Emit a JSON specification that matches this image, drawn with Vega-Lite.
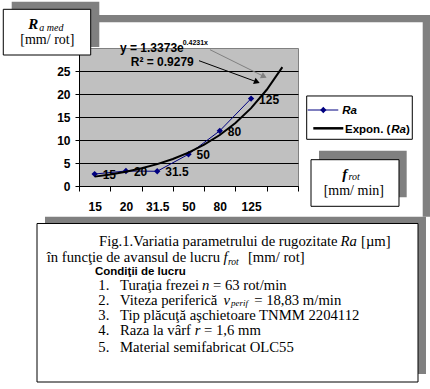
{
"$schema": "https://vega.github.io/schema/vega-lite/v6.json",
"width": 219, "height": 138,
"autosize": "none",
"padding": {"left": 79, "top": 48, "right": 132, "bottom": 203},
"background": "white",
"config": {"view": {"fill": "#c0c0c0", "stroke": "#808080", "strokeWidth": 1}, "axis": {"labelOverlap": false, "labelFlush": false}},
"datasets": {
 "ra": [
  {"i": 1, "f": "15", "ra": 2.6},
  {"i": 2, "f": "20", "ra": 3.26},
  {"i": 3, "f": "31.5", "ra": 3.2},
  {"i": 4, "f": "50", "ra": 6.9},
  {"i": 5, "f": "80", "ra": 12.0},
  {"i": 6, "f": "125", "ra": 19.0}
 ],
 "trend": [
  {"i": 1, "ra": 2.04}, {"i": 1.5, "ra": 2.52}, {"i": 2, "ra": 3.12}, {"i": 2.5, "ra": 3.85},
  {"i": 3, "ra": 4.76}, {"i": 3.5, "ra": 5.88}, {"i": 4, "ra": 7.26}, {"i": 4.5, "ra": 8.98},
  {"i": 5, "ra": 11.09}, {"i": 5.5, "ra": 13.7}, {"i": 6, "ra": 16.93}, {"i": 6.5, "ra": 20.92},
  {"i": 7, "ra": 25.85}
 ]
},
"resolve": {"scale": {"x": "independent", "y": "independent"}, "axis": {"x": "independent", "y": "independent"}},
"layer": [
 {
  "layer": [
   {"data": {"values": [{}]}, "mark": {"type": "rect", "fill": "#808080"}, "encoding": {"x": {"datum": -0.427, "axis": null, "scale": {"domain": [0.5, 7.5], "nice": false, "zero": false}}, "x2": {"datum": 11.719}, "y": {"datum": 37.174, "axis": null, "scale": {"domain": [0, 30], "nice": false, "zero": false}}, "y2": {"datum": 35.587}}},
   {"data": {"values": [{}]}, "mark": {"type": "rect", "fill": "#808080"}, "encoding": {"x": {"datum": 11.486, "axis": null}, "x2": {"datum": 11.719}, "y": {"datum": 37.174, "axis": null}, "y2": {"datum": -6.674}}},
   {"data": {"values": [{}]}, "mark": {"type": "rect", "fill": "#808080"}, "encoding": {"x": {"datum": -0.587, "axis": null}, "x2": {"datum": 11.591}, "y": {"datum": -6.674, "axis": null}, "y2": {"datum": -40.87}}},
   {"data": {"values": [{}]}, "mark": {"type": "rect", "fill": "white", "stroke": "black", "strokeWidth": 1}, "encoding": {"x": {"datum": -0.842, "axis": null}, "x2": {"datum": 11.336}, "y": {"datum": -8.152, "axis": null}, "y2": {"datum": -42.609}}},
   {"data": {"values": [{}]}, "mark": {"type": "rect", "fill": "#808080"}, "encoding": {"x": {"datum": 8.171, "axis": null}, "x2": {"datum": 10.974}, "y": {"datum": 7.674, "axis": null}, "y2": {"datum": -2.457}}},
   {"data": {"values": [{}]}, "mark": {"type": "rect", "fill": "white", "stroke": "black", "strokeWidth": 1}, "encoding": {"x": {"datum": 7.916, "axis": null}, "x2": {"datum": 10.728}, "y": {"datum": 5.717, "axis": null}, "y2": {"datum": -4.413}}},
   {"data": {"values": [{}]}, "mark": {"type": "rect", "fill": "white", "stroke": "black", "strokeWidth": 1}, "encoding": {"x": {"datum": 7.778, "axis": null}, "x2": {"datum": 11.153}, "y": {"datum": 19.57, "axis": null}, "y2": {"datum": 10.15}}},

   {"data": {"values": [{}]}, "mark": {"type": "rule", "color": "#000080", "strokeWidth": 1}, "encoding": {"x": {"datum": 7.81, "axis": null}, "x2": {"datum": 8.788}, "y": {"datum": 16.52, "axis": null}}},
   {"data": {"values": [{}]}, "mark": {"type": "point", "shape": "diamond", "filled": true, "size": 40, "color": "#000080", "opacity": 1}, "encoding": {"x": {"datum": 8.309, "axis": null}, "y": {"datum": 16.52, "axis": null}}},
   {"data": {"values": [{}]}, "mark": {"type": "rule", "color": "black", "strokeWidth": 2.5}, "encoding": {"x": {"datum": 7.989, "axis": null}, "x2": {"datum": 8.948}, "y": {"datum": 12.54, "axis": null}}},
   {"data": {"values": [{}]}, "mark": {"type": "text", "text": "Ra", "font": "Liberation Sans", "fontWeight": "bold", "fontStyle": "italic", "fontSize": 11.5, "align": "left", "baseline": "alphabetic", "color": "black"}, "encoding": {"x": {"datum": 8.916, "axis": null}, "y": {"datum": 15.65, "axis": null}}},
   {"data": {"values": [{}]}, "mark": {"type": "text", "text": "Expon. (", "font": "Liberation Sans", "fontWeight": "bold", "fontSize": 11.5, "align": "left", "baseline": "alphabetic", "color": "black"}, "encoding": {"x": {"datum": 9.002, "axis": null}, "y": {"datum": 11.59, "axis": null}}},
   {"data": {"values": [{}]}, "mark": {"type": "text", "text": "Ra", "font": "Liberation Sans", "fontWeight": "bold", "fontStyle": "italic", "fontSize": 11.5, "align": "left", "baseline": "alphabetic", "color": "black"}, "encoding": {"x": {"datum": 10.48, "axis": null}, "y": {"datum": 11.59, "axis": null}}},
   {"data": {"values": [{}]}, "mark": {"type": "text", "text": ")", "font": "Liberation Sans", "fontWeight": "bold", "fontSize": 11.5, "align": "left", "baseline": "alphabetic", "color": "black"}, "encoding": {"x": {"datum": 10.95, "axis": null}, "y": {"datum": 11.59, "axis": null}}},

   {"data": {"values": [{}]}, "mark": {"type": "text", "text": "f", "font": "Liberation Serif", "fontWeight": "bold", "fontStyle": "italic", "fontSize": 15, "align": "left", "baseline": "alphabetic", "color": "black"}, "encoding": {"x": {"datum": 8.916, "axis": null}, "y": {"datum": 1.63, "axis": null}}},
   {"data": {"values": [{}]}, "mark": {"type": "text", "text": "rot", "font": "Liberation Serif", "fontStyle": "italic", "fontSize": 10, "align": "left", "baseline": "alphabetic", "color": "black"}, "encoding": {"x": {"datum": 9.114, "axis": null}, "y": {"datum": 1.304, "axis": null}}},
   {"data": {"values": [{}]}, "mark": {"type": "text", "text": "[mm/ min]", "font": "Liberation Serif", "fontSize": 14, "align": "center", "baseline": "alphabetic", "color": "black"}, "encoding": {"x": {"datum": 9.284, "axis": null}, "y": {"datum": -1.957, "axis": null}}},

   {"data": {"values": [{}]}, "mark": {"type": "text", "text": "Fig.1.Variatia parametrului de rugozitate", "font": "Liberation Serif", "fontSize": 14.7, "align": "left", "baseline": "alphabetic", "color": "black"}, "encoding": {"x": {"datum": 1.139, "axis": null}, "y": {"datum": -13.043, "axis": null}}},
   {"data": {"values": [{}]}, "mark": {"type": "text", "text": "Ra", "font": "Liberation Serif", "fontStyle": "italic", "fontSize": 14.7, "align": "left", "baseline": "alphabetic", "color": "black"}, "encoding": {"x": {"datum": 8.858, "axis": null}, "y": {"datum": -13.043, "axis": null}}},
   {"data": {"values": [{}]}, "mark": {"type": "text", "text": "[µm]", "font": "Liberation Serif", "fontSize": 14.7, "align": "left", "baseline": "alphabetic", "color": "black"}, "encoding": {"x": {"datum": 9.514, "axis": null}, "y": {"datum": -13.043, "axis": null}}},
   {"data": {"values": [{}]}, "mark": {"type": "text", "text": "în funcţie de avansul de lucru", "font": "Liberation Serif", "fontSize": 14.7, "align": "left", "baseline": "alphabetic", "color": "black"}, "encoding": {"x": {"datum": -0.532, "axis": null}, "y": {"datum": -16.522, "axis": null}}},
   {"data": {"values": [{}]}, "mark": {"type": "text", "text": "f", "font": "Liberation Serif", "fontStyle": "italic", "fontSize": 14.7, "align": "left", "baseline": "alphabetic", "color": "black"}, "encoding": {"x": {"datum": 5.122, "axis": null}, "y": {"datum": -16.522, "axis": null}}},
   {"data": {"values": [{}]}, "mark": {"type": "text", "text": "rot", "font": "Liberation Serif", "fontStyle": "italic", "fontSize": 9.5, "align": "left", "baseline": "alphabetic", "color": "black"}, "encoding": {"x": {"datum": 5.26, "axis": null}, "y": {"datum": -17.174, "axis": null}}},
   {"data": {"values": [{}]}, "mark": {"type": "text", "text": "[mm/ rot]", "font": "Liberation Serif", "fontSize": 14.7, "align": "left", "baseline": "alphabetic", "color": "black"}, "encoding": {"x": {"datum": 5.9, "axis": null}, "y": {"datum": -16.522, "axis": null}}},
   {"data": {"values": [{}]}, "mark": {"type": "text", "text": "Condiţii de lucru", "font": "Liberation Sans", "fontWeight": "bold", "fontSize": 11.5, "align": "left", "baseline": "alphabetic", "color": "black"}, "encoding": {"x": {"datum": 1.011, "axis": null}, "y": {"datum": -19.348, "axis": null}}},

   {"data": {"values": [{}]}, "mark": {"type": "text", "text": "1.", "font": "Liberation Serif", "fontSize": 14.7, "align": "left", "baseline": "alphabetic", "color": "black"}, "encoding": {"x": {"datum": 1.117, "axis": null}, "y": {"datum": -22.609, "axis": null}}},
   {"data": {"values": [{}]}, "mark": {"type": "text", "text": "Turaţia frezei", "font": "Liberation Serif", "fontSize": 14.7, "align": "left", "baseline": "alphabetic", "color": "black"}, "encoding": {"x": {"datum": 1.811, "axis": null}, "y": {"datum": -22.609, "axis": null}}},
   {"data": {"values": [{}]}, "mark": {"type": "text", "text": "n", "font": "Liberation Serif", "fontStyle": "italic", "fontSize": 14.7, "align": "left", "baseline": "alphabetic", "color": "black"}, "encoding": {"x": {"datum": 4.432, "axis": null}, "y": {"datum": -22.609, "axis": null}}},
   {"data": {"values": [{}]}, "mark": {"type": "text", "text": "= 63 rot/min", "font": "Liberation Serif", "fontSize": 14.7, "align": "left", "baseline": "alphabetic", "color": "black"}, "encoding": {"x": {"datum": 4.783, "axis": null}, "y": {"datum": -22.609, "axis": null}}},

   {"data": {"values": [{}]}, "mark": {"type": "text", "text": "2.", "font": "Liberation Serif", "fontSize": 14.7, "align": "left", "baseline": "alphabetic", "color": "black"}, "encoding": {"x": {"datum": 1.117, "axis": null}, "y": {"datum": -25.87, "axis": null}}},
   {"data": {"values": [{}]}, "mark": {"type": "text", "text": "Viteza periferică", "font": "Liberation Serif", "fontSize": 14.7, "align": "left", "baseline": "alphabetic", "color": "black"}, "encoding": {"x": {"datum": 1.811, "axis": null}, "y": {"datum": -25.87, "axis": null}}},
   {"data": {"values": [{}]}, "mark": {"type": "text", "text": "v", "font": "Liberation Serif", "fontStyle": "italic", "fontSize": 14.7, "align": "left", "baseline": "alphabetic", "color": "black"}, "encoding": {"x": {"datum": 5.119, "axis": null}, "y": {"datum": -25.87, "axis": null}}},
   {"data": {"values": [{}]}, "mark": {"type": "text", "text": "perif", "font": "Liberation Serif", "fontStyle": "italic", "fontSize": 9, "align": "left", "baseline": "alphabetic", "color": "black"}, "encoding": {"x": {"datum": 5.358, "axis": null}, "y": {"datum": -26.087, "axis": null}}},
   {"data": {"values": [{}]}, "mark": {"type": "text", "text": "= 18,83 m/min", "font": "Liberation Serif", "fontSize": 14.7, "align": "left", "baseline": "alphabetic", "color": "black"}, "encoding": {"x": {"datum": 6.1, "axis": null}, "y": {"datum": -25.87, "axis": null}}},

   {"data": {"values": [{}]}, "mark": {"type": "text", "text": "3.", "font": "Liberation Serif", "fontSize": 14.7, "align": "left", "baseline": "alphabetic", "color": "black"}, "encoding": {"x": {"datum": 1.117, "axis": null}, "y": {"datum": -29.13, "axis": null}}},
   {"data": {"values": [{}]}, "mark": {"type": "text", "text": "Tip plăcuţă aşchietoare TNMM 2204112", "font": "Liberation Serif", "fontSize": 14.7, "align": "left", "baseline": "alphabetic", "color": "black"}, "encoding": {"x": {"datum": 1.811, "axis": null}, "y": {"datum": -29.13, "axis": null}}},

   {"data": {"values": [{}]}, "mark": {"type": "text", "text": "4.", "font": "Liberation Serif", "fontSize": 14.7, "align": "left", "baseline": "alphabetic", "color": "black"}, "encoding": {"x": {"datum": 1.117, "axis": null}, "y": {"datum": -32.391, "axis": null}}},
   {"data": {"values": [{}]}, "mark": {"type": "text", "text": "Raza la vârf", "font": "Liberation Serif", "fontSize": 14.7, "align": "left", "baseline": "alphabetic", "color": "black"}, "encoding": {"x": {"datum": 1.811, "axis": null}, "y": {"datum": -32.391, "axis": null}}},
   {"data": {"values": [{}]}, "mark": {"type": "text", "text": "r", "font": "Liberation Serif", "fontStyle": "italic", "fontSize": 14.7, "align": "left", "baseline": "alphabetic", "color": "black"}, "encoding": {"x": {"datum": 4.198, "axis": null}, "y": {"datum": -32.391, "axis": null}}},
   {"data": {"values": [{}]}, "mark": {"type": "text", "text": "= 1,6 mm", "font": "Liberation Serif", "fontSize": 14.7, "align": "left", "baseline": "alphabetic", "color": "black"}, "encoding": {"x": {"datum": 4.495, "axis": null}, "y": {"datum": -32.391, "axis": null}}},

   {"data": {"values": [{}]}, "mark": {"type": "text", "text": "5.", "font": "Liberation Serif", "fontSize": 14.7, "align": "left", "baseline": "alphabetic", "color": "black"}, "encoding": {"x": {"datum": 1.117, "axis": null}, "y": {"datum": -36.087, "axis": null}}},
   {"data": {"values": [{}]}, "mark": {"type": "text", "text": "Material semifabricat OLC55", "font": "Liberation Serif", "fontSize": 14.7, "align": "left", "baseline": "alphabetic", "color": "black"}, "encoding": {"x": {"datum": 1.811, "axis": null}, "y": {"datum": -36.087, "axis": null}}}
  ]
 },
 {
  "encoding": {
   "x": {"field": "i", "type": "quantitative", "scale": {"domain": [0.5, 7.5], "nice": false, "zero": false},
    "axis": {"title": null, "values": [0.5, 1.5, 2.5, 3.5, 4.5, 5.5, 6.5, 7.5],
     "labelExpr": "datum.value == 0.5 ? '15' : datum.value == 1.5 ? '20' : datum.value == 2.5 ? '31.5' : datum.value == 3.5 ? '50' : datum.value == 4.5 ? '80' : datum.value == 5.5 ? '125' : ''",
     "labelOffset": 15.64, "tickSize": 5, "tickColor": "black", "domainColor": "black", "labelFont": "Liberation Sans", "labelFontWeight": "bold", "labelFontSize": 12, "labelColor": "black", "labelPadding": 10, "labelFlush": false, "labelOverlap": false, "labelBaseline": "top", "grid": false}},
   "y": {"field": "ra", "type": "quantitative", "scale": {"domain": [0, 30], "nice": false, "zero": false},
    "axis": {"title": null, "values": [0, 5, 10, 15, 20, 25], "grid": true, "gridColor": "black", "gridWidth": 1, "gridOpacity": 1, "tickSize": 4, "tickColor": "black", "domainColor": "black", "labelFont": "Liberation Sans", "labelFontWeight": "bold", "labelFontSize": 12, "labelColor": "black", "labelPadding": 5, "labelOverlap": false, "labelFlush": false}}
  },
  "layer": [
   {"data": {"name": "ra"}, "mark": {"type": "line", "color": "#000080", "strokeWidth": 1, "point": {"shape": "diamond", "filled": true, "size": 40, "color": "#000080"}}},
   {"data": {"name": "trend"}, "mark": {"type": "line", "color": "black", "strokeWidth": 2}},
   {"data": {"name": "ra"}, "mark": {"type": "text", "align": "left", "baseline": "middle", "dx": 8, "dy": 1, "font": "Liberation Sans", "fontWeight": "bold", "fontSize": 12, "color": "black"}, "encoding": {"text": {"field": "f"}}}
  ]
 },
 {
  "layer": [
   {"data": {"values": [{}]}, "mark": {"type": "rect", "fill": "#808080"}, "encoding": {"x": {"datum": -1.651, "axis": null, "scale": {"domain": [0.5, 7.5], "nice": false, "zero": false}}, "x2": {"datum": 1.149}, "y": {"datum": 40.065, "axis": null, "scale": {"domain": [0, 30], "nice": false, "zero": false}}, "y2": {"datum": 30.217}}},
   {"data": {"values": [{}]}, "mark": {"type": "rect", "fill": "white", "stroke": "black", "strokeWidth": 1}, "encoding": {"x": {"datum": -1.92, "axis": null}, "x2": {"datum": 0.874}, "y": {"datum": 38.413, "axis": null}, "y2": {"datum": 28.478}}},
   {"data": {"values": [{}]}, "mark": {"type": "text", "text": "R", "font": "Liberation Serif", "fontWeight": "bold", "fontStyle": "italic", "fontSize": 15, "align": "left", "baseline": "alphabetic", "color": "black"}, "encoding": {"x": {"datum": -1.121, "axis": null}, "y": {"datum": 34.065, "axis": null}}},
   {"data": {"values": [{}]}, "mark": {"type": "text", "text": "a med", "font": "Liberation Serif", "fontStyle": "italic", "fontSize": 10, "align": "left", "baseline": "alphabetic", "color": "black"}, "encoding": {"x": {"datum": -0.769, "axis": null}, "y": {"datum": 33.696, "axis": null}}},
   {"data": {"values": [{}]}, "mark": {"type": "text", "text": "[mm/ rot]", "font": "Liberation Serif", "fontSize": 14, "align": "center", "baseline": "alphabetic", "color": "black"}, "encoding": {"x": {"datum": -0.512, "axis": null}, "y": {"datum": 30.87, "axis": null}}},

   {"data": {"values": [{}]}, "mark": {"type": "rule", "color": "#808080", "strokeWidth": 1}, "encoding": {"x": {"datum": 4.687, "axis": null}, "x2": {"datum": 6.413}, "y": {"datum": 29.63, "axis": null}, "y2": {"datum": 23.804}}},
   {"data": {"values": [{}]}, "mark": {"type": "point", "shape": "triangle-up", "filled": true, "size": 45, "color": "#808080", "opacity": 1, "angle": 116.6}, "encoding": {"x": {"datum": 6.413, "axis": null}, "y": {"datum": 23.804, "axis": null}}},
   {"data": {"values": [{}]}, "mark": {"type": "rule", "color": "black", "strokeWidth": 1}, "encoding": {"x": {"datum": 4.336, "axis": null}, "x2": {"datum": 6.19}, "y": {"datum": 27.239, "axis": null}, "y2": {"datum": 22.609}}},
   {"data": {"values": [{}]}, "mark": {"type": "point", "shape": "triangle-up", "filled": true, "size": 45, "color": "black", "opacity": 1, "angle": 111.5}, "encoding": {"x": {"datum": 6.19, "axis": null}, "y": {"datum": 22.609, "axis": null}}},
   {"data": {"values": [{}]}, "mark": {"type": "text", "text": "y = 1.3373e", "font": "Liberation Sans", "fontWeight": "bold", "fontSize": 12, "align": "left", "baseline": "alphabetic", "color": "black"}, "encoding": {"x": {"datum": 1.811, "axis": null}, "y": {"datum": 29.13, "axis": null}}},
   {"data": {"values": [{}]}, "mark": {"type": "text", "text": "0.4231x", "font": "Liberation Sans", "fontWeight": "bold", "fontSize": 7, "align": "left", "baseline": "alphabetic", "color": "black"}, "encoding": {"x": {"datum": 3.815, "axis": null}, "y": {"datum": 30.65, "axis": null}}},
   {"data": {"values": [{}]}, "mark": {"type": "text", "text": "R² = 0.9279", "font": "Liberation Sans", "fontWeight": "bold", "fontSize": 12, "align": "left", "baseline": "alphabetic", "color": "black"}, "encoding": {"x": {"datum": 2.153, "axis": null}, "y": {"datum": 25.98, "axis": null}}}
  ]
 }
]
}
